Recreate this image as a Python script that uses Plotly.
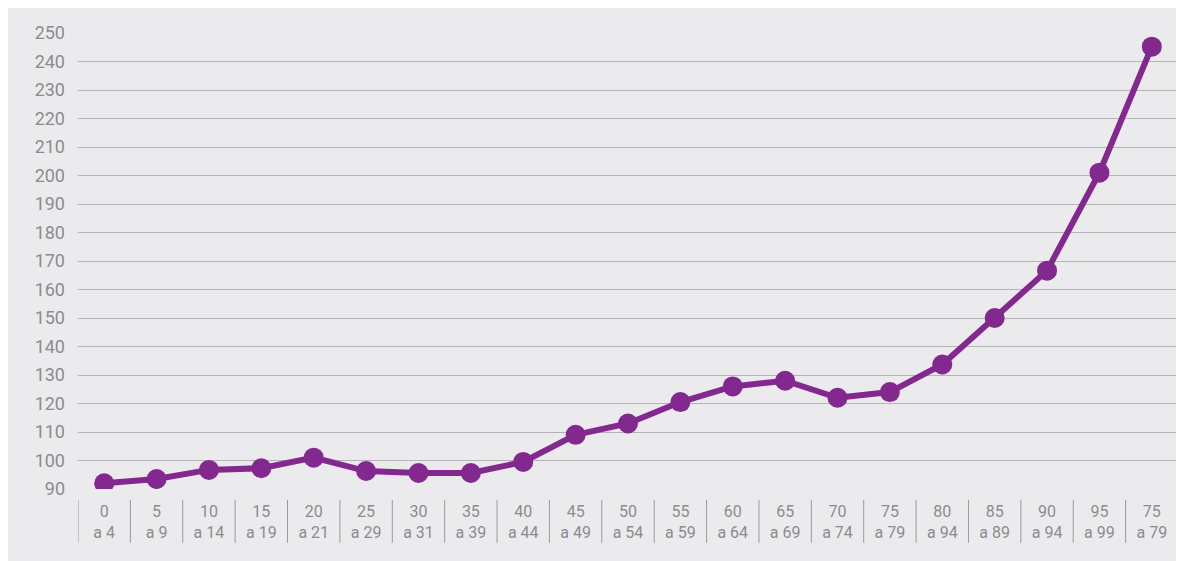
import plotly.graph_objects as go

# Data
age_from = ["0", "5", "10", "15", "20", "25", "30", "35", "40", "45", "50",
            "55", "60", "65", "70", "75", "80", "85", "90", "95", "75"]
age_to = ["a 4", "a 9", "a 14", "a 19", "a 21", "a 29", "a 31", "a 39", "a 44", "a 49", "a 54",
          "a 59", "a 64", "a 69", "a 74", "a 79", "a 94", "a 89", "a 94", "a 99", "a 79"]
values = [92, 93.5, 96.7, 97.3, 101, 96.3, 95.6, 95.6, 99.5, 109, 113,
          120.5, 126, 128, 122, 124, 133.7, 150, 166.6, 201, 245.2]
y_ticks = list(range(90, 251, 10))

idx = list(range(len(values)))
tick_text = [f"{a}<br>{b}" for a, b in zip(age_from, age_to)]

PURPLE = "#83288f"
BG = "#ebebed"
GRID = "#b4b4b6"
TXT = "#8c8c8e"

fig = go.Figure()
fig.add_trace(go.Scatter(
    x=idx, y=values, mode="lines+markers",
    line=dict(color=PURPLE, width=6),
    marker=dict(color=PURPLE, size=20),
    hoverinfo="skip", showlegend=False,
))

shapes = []
# vertical category separators below the plot
for i in range(len(values) + 1):
    shapes.append(dict(type="line", xref="x", yref="paper",
                       x0=i - 0.5, x1=i - 0.5, y0=-0.024, y1=-0.118,
                       line=dict(color="#9a9a9c", width=1)))

fig.update_layout(
    width=1200, height=561,
    margin=dict(l=70, r=30, t=25, b=80),
    paper_bgcolor=BG, plot_bgcolor=BG,
    font=dict(family="Roboto", color=TXT, size=16),
    shapes=shapes,
    xaxis=dict(
        range=[-0.5, len(values) - 0.5],
        tickmode="array", tickvals=idx, ticktext=tick_text,
        showgrid=False, zeroline=False, showline=False,
        ticks="", ticklabelstandoff=11,
        tickfont=dict(size=16, color=TXT),
        fixedrange=True,
    ),
    yaxis=dict(
        range=[90, 250],
        tickmode="array", tickvals=y_ticks,
        showgrid=True, gridcolor=GRID, gridwidth=1,
        zeroline=False, showline=False, ticks="",
        ticklabelstandoff=12,
        tickfont=dict(size=18, color=TXT),
        fixedrange=True,
    ),
)

fig.write_html("out.html")
